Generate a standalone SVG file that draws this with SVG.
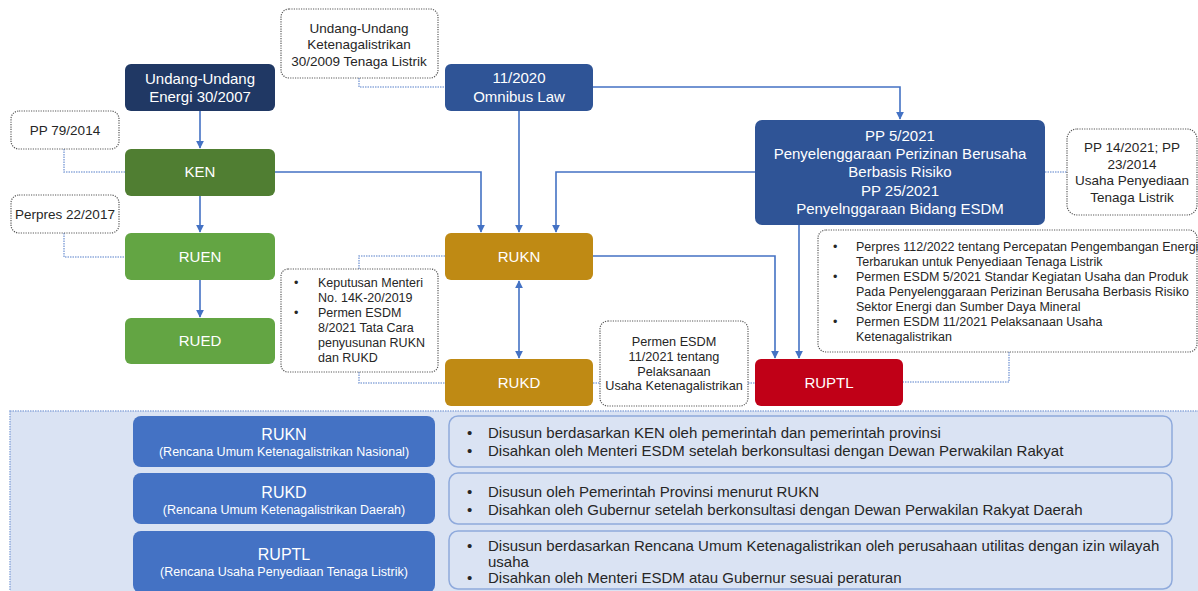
<svg xmlns="http://www.w3.org/2000/svg" width="1198" height="591" viewBox="0 0 1198 591">
  <defs>
    <marker id="arr" viewBox="0 0 10 10" refX="9" refY="5" markerWidth="8" markerHeight="8" markerUnits="userSpaceOnUse" orient="auto-start-reverse">
      <path d="M0,0 L10,5 L0,10 z" fill="#4472C4"/>
    </marker>
    <style>
      text { font-family: "Liberation Sans", Arial, sans-serif; }
      .wt { fill: #ffffff; font-size: 15px; text-anchor: middle; }
      .dk { fill: #262626; font-size: 13.5px; text-anchor: middle; }
      .sm { fill: #262626; font-size: 12.7px; text-anchor: middle; }
      .bl { fill: #262626; font-size: 12.5px; }
      .bt { fill: #262626; font-size: 15px; }
      .note { fill: #ffffff; stroke: #595959; stroke-width: 1.2; stroke-dasharray: 1.2 1.2; }
      .conn { fill: none; stroke: #4472C4; stroke-width: 1.6; }
      .dot { fill: none; stroke: #8FAADC; stroke-width: 1.6; stroke-dasharray: 1.5 1; }
      .lbl { fill: #4472C4; }
      .desc { fill: #DAE3F3; stroke: #8FAADC; stroke-width: 1.5; }
      .ttl { fill: #ffffff; font-size: 16px; text-anchor: middle; }
      .st { fill: #ffffff; font-size: 12.5px; text-anchor: middle; }
    </style>
  </defs>
  <rect width="1198" height="591" fill="#ffffff"/>

  <!-- connectors -->
  <g id="connectors">
    <path class="dot" d="M359,78 V87 H445"/>
    <path class="dot" d="M64,149 V172 H125"/>
    <path class="dot" d="M64,233 V257 H125"/>
    <path class="dot" d="M359,269 V256 H445"/>
    <path class="dot" d="M359,372 V383 H445"/>
    <path class="dot" d="M593,383 H600"/>
    <path class="dot" d="M748,383 H755"/>
    <path class="dot" d="M1045,172 H1067"/>
    <path class="dot" d="M1009,352 V382 H903"/>
    <path class="conn" d="M200,111 V148" marker-end="url(#arr)"/>
    <path class="conn" d="M200,196 V232" marker-end="url(#arr)"/>
    <path class="conn" d="M200,280 V317" marker-end="url(#arr)"/>
    <path class="conn" d="M275,172 H481 V232" marker-end="url(#arr)"/>
    <path class="conn" d="M519,111 V232" marker-end="url(#arr)"/>
    <path class="conn" d="M755,172 H556 V232" marker-end="url(#arr)"/>
    <path class="conn" d="M593,87 H900 V119" marker-end="url(#arr)"/>
    <path class="conn" d="M519,281 V358" marker-start="url(#arr)" marker-end="url(#arr)"/>
    <path class="conn" d="M593,256 H775 V358" marker-end="url(#arr)"/>
    <path class="conn" d="M799,225 V358" marker-end="url(#arr)"/>
  </g>

  <!-- law and regulation boxes -->
  <g id="uu-energi">
    <rect x="125" y="64" width="150" height="47" rx="6" fill="#203864"/>
    <text class="wt" x="200" y="84">Undang-Undang</text>
    <text class="wt" x="200" y="102">Energi 30/2007</text>
  </g>
  <g id="uu-ketenagalistrikan">
    <rect class="note" x="281" y="9" width="157" height="69" rx="8"/>
    <text class="dk" x="359" y="33">Undang-Undang</text>
    <text class="dk" x="359" y="49">Ketenagalistrikan</text>
    <text class="dk" x="359" y="66">30/2009 Tenaga Listrik</text>
  </g>
  <g id="omnibus">
    <rect x="445" y="64" width="148" height="47" rx="6" fill="#2F5496"/>
    <text class="wt" x="519" y="83">11/2020</text>
    <text class="wt" x="519" y="102">Omnibus Law</text>
  </g>
  <g id="pp5">
    <rect x="755" y="120" width="290" height="105" rx="7" fill="#2F5496"/>
    <text class="wt" x="900" y="141">PP 5/2021</text>
    <text class="wt" x="900" y="159">Penyelenggaraan Perizinan Berusaha</text>
    <text class="wt" x="900" y="177">Berbasis Risiko</text>
    <text class="wt" x="900" y="196">PP 25/2021</text>
    <text class="wt" x="900" y="214">Penyelnggaraan Bidang ESDM</text>
  </g>
  <g id="pp14">
    <rect class="note" x="1067" y="129" width="130" height="86" rx="10"/>
    <text class="dk" x="1132" y="152">PP 14/2021; PP</text>
    <text class="dk" x="1132" y="169">23/2014</text>
    <text class="dk" x="1132" y="185">Usaha Penyediaan</text>
    <text class="dk" x="1132" y="202">Tenaga Listrik</text>
  </g>
  <g id="pp79">
    <rect class="note" x="11" y="111" width="108" height="38" rx="8"/>
    <text class="dk" x="65" y="135">PP 79/2014</text>
  </g>
  <g id="perpres22">
    <rect class="note" x="11" y="195" width="108" height="38" rx="8"/>
    <text class="dk" x="65" y="219">Perpres 22/2017</text>
  </g>
  <g id="ken">
    <rect x="125" y="149" width="150" height="47" rx="6" fill="#507E32"/>
    <text class="wt" x="200" y="177">KEN</text>
  </g>
  <g id="ruen">
    <rect x="125" y="233" width="150" height="47" rx="6" fill="#63A543"/>
    <text class="wt" x="200" y="262">RUEN</text>
  </g>
  <g id="rued">
    <rect x="125" y="318" width="150" height="46" rx="6" fill="#63A543"/>
    <text class="wt" x="200" y="346">RUED</text>
  </g>
  <g id="kepmen">
    <rect class="note" x="281" y="269" width="157" height="103" rx="7"/>
    <text class="bl" x="294" y="287">•</text>
    <text class="bl" x="318" y="287">Keputusan Menteri</text>
    <text class="bl" x="318" y="302">No. 14K-20/2019</text>
    <text class="bl" x="294" y="317">•</text>
    <text class="bl" x="318" y="317">Permen ESDM</text>
    <text class="bl" x="318" y="332">8/2021 Tata Cara</text>
    <text class="bl" x="318" y="347">penyusunan RUKN</text>
    <text class="bl" x="318" y="362">dan RUKD</text>
  </g>
  <g id="rukn">
    <rect x="445" y="233" width="148" height="47" rx="6" fill="#BF8A14"/>
    <text class="wt" x="519" y="262">RUKN</text>
  </g>
  <g id="rukd">
    <rect x="445" y="359" width="148" height="47" rx="6" fill="#BF8A14"/>
    <text class="wt" x="519" y="388">RUKD</text>
  </g>
  <g id="permen11">
    <rect class="note" x="600" y="321" width="148" height="85" rx="8"/>
    <text class="sm" x="674" y="346">Permen ESDM</text>
    <text class="sm" x="674" y="361">11/2021 tentang</text>
    <text class="sm" x="674" y="376">Pelaksanaan</text>
    <text class="sm" x="674" y="390">Usaha Ketenagalistrikan</text>
  </g>
  <g id="ruptl">
    <rect x="755" y="359" width="148" height="47" rx="6" fill="#C00017"/>
    <text class="wt" x="829" y="388">RUPTL</text>
  </g>
  <g id="perpres112">
    <rect class="note" x="818" y="230" width="379" height="122" rx="8"/>
    <text class="bl" x="833" y="251">•</text>
    <text class="bl" x="856" y="251">Perpres 112/2022 tentang Percepatan Pengembangan Energi</text>
    <text class="bl" x="856" y="266">Terbarukan untuk Penyediaan Tenaga Listrik</text>
    <text class="bl" x="833" y="281">•</text>
    <text class="bl" x="856" y="281">Permen ESDM 5/2021 Standar Kegiatan Usaha dan Produk</text>
    <text class="bl" x="856" y="296">Pada Penyelenggaraan Perizinan Berusaha Berbasis Risiko</text>
    <text class="bl" x="856" y="311">Sektor Energi dan Sumber Daya Mineral</text>
    <text class="bl" x="833" y="326">•</text>
    <text class="bl" x="856" y="326">Permen ESDM 11/2021 Pelaksanaan Usaha</text>
    <text class="bl" x="856" y="341">Ketenagalistrikan</text>
  </g>

  <!-- summary panel -->
  <g id="panel">
    <rect x="10" y="411" width="1190" height="182" fill="#DAE3F3" stroke="#8FAADC" stroke-width="1.5" stroke-dasharray="1.5 1"/>
  </g>
  <g id="row-rukn">
    <rect class="lbl" x="133" y="416" width="302" height="51" rx="8"/>
    <text class="ttl" x="284" y="440">RUKN</text>
    <text class="st" x="284" y="456">(Rencana Umum Ketenagalistrikan Nasional)</text>
    <rect class="desc" x="449" y="416" width="723" height="51" rx="9"/>
    <text class="bt" x="467" y="438">•</text>
    <text class="bt" x="488" y="438">Disusun berdasarkan KEN oleh pemerintah dan pemerintah provinsi</text>
    <text class="bt" x="467" y="456">•</text>
    <text class="bt" x="488" y="456">Disahkan oleh Menteri ESDM setelah berkonsultasi dengan Dewan Perwakilan Rakyat</text>
  </g>
  <g id="row-rukd">
    <rect class="lbl" x="133" y="473" width="302" height="51" rx="8"/>
    <text class="ttl" x="284" y="498">RUKD</text>
    <text class="st" x="284" y="514">(Rencana Umum Ketenagalistrikan Daerah)</text>
    <rect class="desc" x="449" y="473" width="723" height="51" rx="9"/>
    <text class="bt" x="467" y="497">•</text>
    <text class="bt" x="488" y="497">Disusun oleh Pemerintah Provinsi menurut RUKN</text>
    <text class="bt" x="467" y="515">•</text>
    <text class="bt" x="488" y="515">Disahkan oleh Gubernur setelah berkonsultasi dengan Dewan Perwakilan Rakyat Daerah</text>
  </g>
  <g id="row-ruptl">
    <rect class="lbl" x="133" y="531" width="302" height="62" rx="8"/>
    <text class="ttl" x="284" y="560">RUPTL</text>
    <text class="st" x="284" y="576">(Rencana Usaha Penyediaan Tenaga Listrik)</text>
    <rect class="desc" x="449" y="531" width="723" height="58" rx="9"/>
    <text class="bt" x="467" y="551">•</text>
    <text class="bt" x="488" y="551">Disusun berdasarkan Rencana Umum Ketenagalistrikan oleh perusahaan utilitas dengan izin wilayah</text>
    <text class="bt" x="488" y="567">usaha</text>
    <text class="bt" x="467" y="583">•</text>
    <text class="bt" x="488" y="583">Disahkan oleh Menteri ESDM atau Gubernur sesuai peraturan</text>
  </g>
</svg>
